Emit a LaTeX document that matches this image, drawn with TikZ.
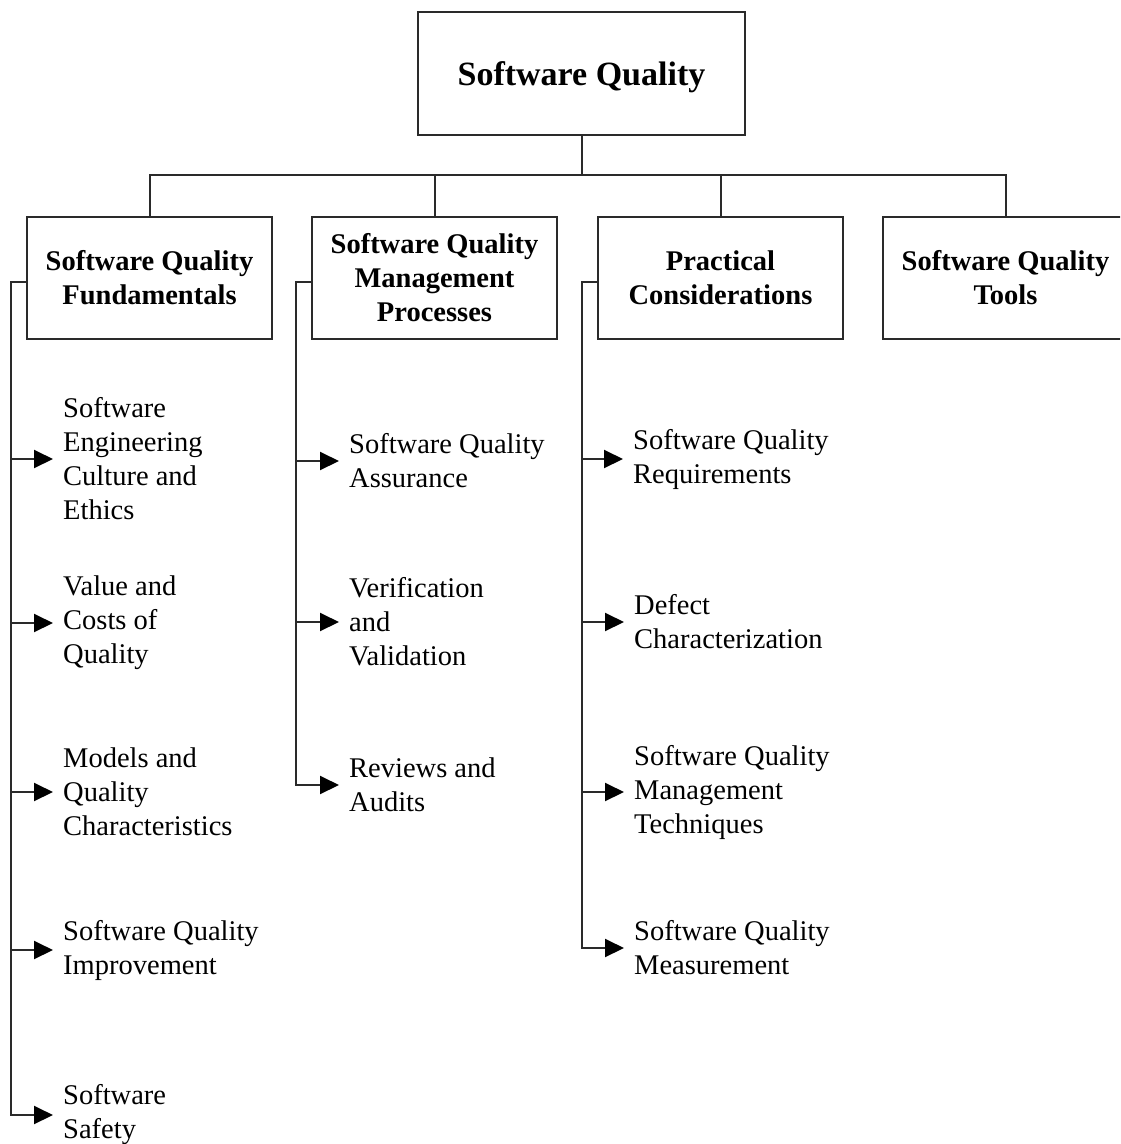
\documentclass[tikz,border=0pt]{standalone}
\usepackage{fontspec}
\setmainfont{Liberation Serif}
\usetikzlibrary{arrows.meta}
\definecolor{linec}{HTML}{2A2A2A}
\begin{document}
\begin{tikzpicture}[x=1pt,y=-1pt,
  link/.style={draw=linec, line width=2pt, line cap=rect},
  arr/.style={link, -{Triangle[length=19pt,width=18pt,color=black]}},
  box/.style={draw=linec, line width=2pt, minimum width=245pt, minimum height=122pt,
    inner sep=0pt, align=center, font=\bfseries\fontsize{28.5}{34}\selectfont},
  topbox/.style={box, minimum width=327pt, minimum height=123pt,
    font=\bfseries\fontsize{34}{40}\selectfont},
  item/.style={anchor=west, inner sep=0pt, align=left,
    font=\fontsize{28.5}{34}\selectfont}]
\useasboundingbox (0,0) rectangle (1120,1144);
\clip (0,0) rectangle (1120,1144);

% top level and the four areas
\node[topbox] (sq) at (581.5,73.5) {\raisebox{-4pt}[\height][\depth]{Software Quality}};
\node[box] (f) at (149.5,278) {Software Quality\\Fundamentals};
\node[box] (m) at (434.5,278) {Software Quality\\Management\\Processes};
\node[box] (p) at (720.5,278) {Practical\\Considerations};
\node[box] (t) at (1005.5,278) {Software Quality\\Tools};

% tree bar
\coordinate (bar) at (0,175);
\draw[link] (sq.south) -- (sq.south |- bar);
\draw[link] (f.north) |- (t.north |- bar) -- (t.north);
\draw[link] (m.north) -- (m.north |- bar);
\draw[link] (p.north) -- (p.north |- bar);

% sub-topics
\node[item] (f1) at (63,459) {Software\\Engineering\\Culture and\\Ethics};
\node[item] (f2) at (63,623) {Value and\\Costs of\\Quality};
\node[item] (f3) at (63,792) {Models and\\Quality\\Characteristics};
\node[item] (f4) at (63,950) {Software Quality\\Improvement};
\node[item] (f5) at (63,1115) {Software\\Safety};

\node[item] (m1) at (349,461) {Software Quality\\Assurance};
\node[item] (m2) at (349,622) {Verification\\and\\Validation};
\node[item] (m3) at (349,785) {Reviews and\\Audits};

\node[item] (p1) at (633,459) {Software Quality\\Requirements};
\node[item] (p2) at (634,622) {Defect\\Characterization};
\node[item] (p3) at (634,792) {Software Quality\\Management\\Techniques};
\node[item] (p4) at (634,948) {Software Quality\\Measurement};

% side trunks
\coordinate (k1) at (11,282);
\coordinate (k2) at (296,282);
\coordinate (k3) at (582,282);
\draw[link] (f.west |- k1) -- (k1) -- (k1 |- f5.west);
\draw[link] (m.west |- k2) -- (k2) -- (k2 |- m3.west);
\draw[link] (p.west |- k3) -- (k3) -- (k3 |- p4.west);

% arrows to the sub-topics
\foreach \n in {f1,f2,f3,f4,f5}
  \draw[arr] (k1 |- \n.west) -- ([xshift=-10pt]\n.west);
\foreach \n in {m1,m2,m3}
  \draw[arr] (k2 |- \n.west) -- ([xshift=-10pt]\n.west);
\foreach \n in {p1,p2,p3,p4}
  \draw[arr] (k3 |- \n.west) -- ([xshift=-10pt]\n.west);
\end{tikzpicture}
\end{document}
